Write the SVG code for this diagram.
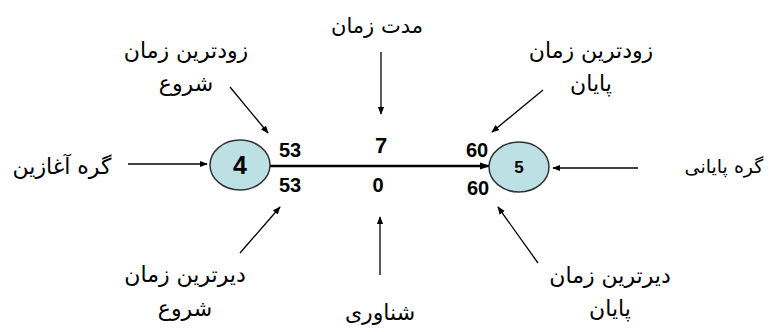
<svg xmlns="http://www.w3.org/2000/svg" width="771" height="332" viewBox="0 0 771 332">
<style>
.fa{font-family:"DejaVu Sans","Noto Sans",sans-serif;font-size:22px;fill:#000;text-anchor:middle;direction:rtl}
.num{font-family:"Liberation Sans",Arial,sans-serif;font-weight:bold;font-size:20px;fill:#000;text-anchor:middle}
.ln{stroke:#000;stroke-width:1.3;fill:none;marker-end:url(#ah)}
.node{fill:#bde0e4;stroke:#333;stroke-width:1.5}
</style>
<defs>
<marker id="ah" viewBox="0 0 10 10" refX="9" refY="5" markerWidth="8" markerHeight="8" markerUnits="userSpaceOnUse" orient="auto"><path d="M0,1 L10,5 L0,9 z" fill="#000"/></marker>
<marker id="ah2" viewBox="0 0 10 10" refX="9" refY="5" markerWidth="10" markerHeight="10" markerUnits="userSpaceOnUse" orient="auto"><path d="M0,1.5 L10,5 L0,8.5 z" fill="#000"/></marker>
</defs>
<rect width="771" height="332" fill="#fff"/>
<g id="connectors">
<line x1="270" y1="166" x2="489" y2="166" stroke="#000" stroke-width="2.5" marker-end="url(#ah2)"/>
<line class="ln" x1="128" y1="164" x2="207" y2="164"/>
<line class="ln" x1="638" y1="168" x2="553" y2="168"/>
<line class="ln" x1="230" y1="87" x2="268" y2="133"/>
<line class="ln" x1="381" y1="52" x2="381" y2="114"/>
<line class="ln" x1="543" y1="90" x2="492" y2="132"/>
<line class="ln" x1="240" y1="253" x2="280" y2="207"/>
<line class="ln" x1="380" y1="275" x2="380" y2="217"/>
<line class="ln" x1="538" y1="263" x2="498" y2="207"/>
</g>
<g id="node4">
<ellipse class="node" cx="240" cy="165" rx="30" ry="25"/>
<text x="240" y="174" class="num" style="font-size:25px">4</text>
</g>
<g id="node5">
<ellipse class="node" cx="519" cy="167" rx="30" ry="25"/>
<text x="519" y="173" class="num" style="font-size:17px">5</text>
</g>
<g id="values">
<text x="290" y="157" class="num">53</text>
<text x="290" y="192" class="num">53</text>
<text x="381" y="153" class="num" style="font-size:22px">7</text>
<text x="378" y="192" class="num">0</text>
<text x="477" y="157" class="num">60</text>
<text x="478" y="195" class="num">60</text>
</g>
<g id="labels">
<text x="186" y="58" class="fa">زودترین زمان</text>
<text x="186" y="91" class="fa">شروع</text>
<text x="377" y="33" class="fa" style="font-size:21px">مدت زمان</text>
<text x="591" y="58" class="fa">زودترین زمان</text>
<text x="591" y="91" class="fa">پایان</text>
<text x="62" y="174" class="fa">گره آغازین</text>
<text x="724" y="173" class="fa" style="font-size:19px">گره پایانی</text>
<text x="185" y="282" class="fa">دیرترین زمان</text>
<text x="185" y="316" class="fa">شروع</text>
<text x="380" y="320" class="fa">شناوری</text>
<text x="610" y="283" class="fa">دیرترین زمان</text>
<text x="610" y="316" class="fa">پایان</text>
</g>
</svg>
